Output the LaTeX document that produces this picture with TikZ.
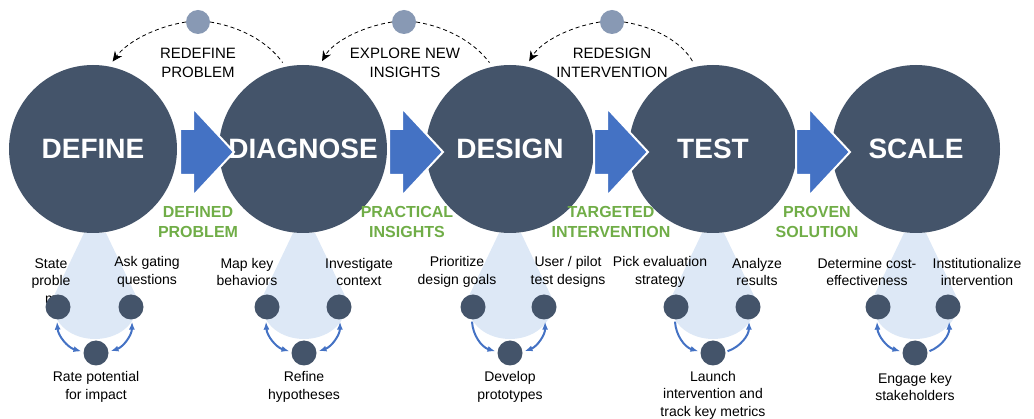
\documentclass[tikz,border=0pt]{standalone}
\usepackage{fontspec}
\setmainfont{Liberation Sans}
\usetikzlibrary{arrows.meta, positioning}
\definecolor{navy}{RGB}{68,84,106}
\definecolor{dotgray}{RGB}{136,153,180}
\definecolor{flowblue}{RGB}{68,114,196}
\definecolor{leafgreen}{RGB}{112,173,71}
\definecolor{conefill}{RGB}{221,232,246}
\tikzset{
	stage/.style={circle, fill=navy, minimum size=168pt, inner sep=0pt},
	stagetext/.style={text=white, font=\fontsize{28}{30}\selectfont\bfseries, inner sep=0pt},
	loopdot/.style={circle, fill=dotgray, minimum size=24pt, inner sep=0pt},
	substep/.style={circle, fill=navy, minimum size=25pt, inner sep=0pt},
	loopnote/.style={align=center, font=\fontsize{15}{19}\selectfont, inner sep=0pt},
	outcome/.style={align=center, text=leafgreen, font=\fontsize{16}{20}\selectfont\bfseries, inner sep=0pt},
	note/.style={align=center, font=\fontsize{14}{17.5}\selectfont, inner sep=0pt},
	cone/.style={fill=conefill},
	flow/.style={fill=flowblue, draw=white, line width=2pt, line join=miter},
	loopdash/.style={dash pattern=on 4pt off 3pt, line width=0.8pt},
	loopback/.style={loopdash, -{Stealth[length=10pt, width=9pt]}},
	link/.style={draw=flowblue, line width=2pt, shorten >=2pt, shorten <=2pt}
}

\begin{document}
\begin{tikzpicture}[x=1pt, y=-1pt]
	\useasboundingbox (0,0) rectangle (1034,419);

	\foreach \cx in {95,304,510,713,915}
		\fill[cone] (\cx-11,233) -- (\cx-43,300) .. controls (\cx-43,352) and (\cx+43,352) .. (\cx+43,300) -- (\cx+11,233) -- cycle;

	\node[stage] (define) at (93,149) {};
	\node[stagetext] (definetext) at (define) {DEFINE};

	\node[stage] (diagnose) at (303,149) {};
	\node[stagetext] (diagnosetext) at (diagnose) {DIAGNOSE};

	\node[stage] (design) at (510,149) {};
	\node[stagetext] (designtext) at (design) {DESIGN};

	\node[stage] (test) at (713,149) {};
	\node[stagetext] (testtext) at (test) {TEST};

	\node[stage] (scale) at (916,149) {};
	\node[stagetext] (scaletext) at (scale) {SCALE};

	\foreach \x in {180,389,594,796}
		\draw[flow, shift={(\x,152)}] (0,-23) -- (13,-23) -- (13,-44) -- (54,0) -- (13,44) -- (13,23) -- (0,23) -- cycle;

	\node[outcome] (defined) at (198,222) {DEFINED\\PROBLEM};
	\node[outcome] (practical) at (407,222) {PRACTICAL\\INSIGHTS};
	\node[outcome] (targeted) at (611,222) {TARGETED\\INTERVENTION};
	\node[outcome] (proven) at (817,222) {PROVEN\\SOLUTION};

	\node[loopdot] (redefine) at (198,22) {};
	\node[loopnote] (redefinetext) at (198,63) {REDEFINE\\PROBLEM};
	\draw[loopback, shorten >=6pt] (redefine.west) .. controls (155,27) and (127,42) .. (define.79);
	\draw[loopdash, shorten >=5pt] (redefine.east) .. controls (241,27) and (268,42) .. (diagnose.102);

	\node[loopdot] (explore) at (404,22) {};
	\node[loopnote] (exploretext) at (405,63) {EXPLORE NEW\\INSIGHTS};
	\draw[loopback, shorten >=6pt] (explore.west) .. controls (361,27) and (333,42) .. (diagnose.79);
	\draw[loopdash, shorten >=5pt] (explore.east) .. controls (447,27) and (474,42) .. (design.102);

	\node[loopdot] (redesign) at (612,22) {};
	\node[loopnote] (redesigntext) at (612,63) {REDESIGN\\INTERVENTION};
	\draw[loopback, shorten >=6pt] (redesign.west) .. controls (569,27) and (541,42) .. (design.79);
	\draw[loopdash, shorten >=5pt] (redesign.east) .. controls (655,27) and (682,42) .. (test.102);

	\node[note] (statetext) at (51,281) {State\\proble\\m};
	\node[note] (gatingtext) at (147,272) {Ask gating\\questions};
	\node[note] (ratetext) at (96,387) {Rate potential\\for impact};
	\node[substep] (state) at (58,307) {};
	\node[substep] (gating) at (131,307) {};
	\node[substep] (rate) at (96,353) {};
	\draw[link, {Latex[length=8pt]}-{Latex[length=8pt]}] (state.-95) to[bend right=35] (rate.175);
	\draw[link, {Latex[length=8pt]}-{Latex[length=8pt]}] (rate.5) to[bend right=35] (gating.-85);

	\node[note] (maptext) at (247,272) {Map key\\behaviors};
	\node[note] (contexttext) at (359,272) {Investigate\\context};
	\node[note] (refinetext) at (304,387) {Refine\\hypotheses};
	\node[substep] (map) at (267,307) {};
	\node[substep] (context) at (339,307) {};
	\node[substep] (refine) at (304,353) {};
	\draw[link, {Latex[length=8pt]}-{Latex[length=8pt]}] (map.-95) to[bend right=35] (refine.175);
	\draw[link, {Latex[length=8pt]}-{Latex[length=8pt]}] (refine.5) to[bend right=35] (context.-85);

	\node[note] (prioritizetext) at (457,272) {Prioritize\\design goals};
	\node[note] (pilottext) at (568,272) {User / pilot\\test designs};
	\node[note] (developtext) at (510,387) {Develop\\prototypes};
	\node[substep] (prioritize) at (473,307) {};
	\node[substep] (pilot) at (544,307) {};
	\node[substep] (develop) at (510,353) {};
	\draw[link, -{Latex[length=8pt]}] (prioritize.-95) to[bend right=35] (develop.175);
	\draw[link, {Latex[length=8pt]}-{Latex[length=8pt]}] (develop.5) to[bend right=35] (pilot.-85);

	\node[note] (picktext) at (660,272) {Pick evaluation\\strategy};
	\node[note] (analyzetext) at (757,272) {Analyze\\results};
	\node[note] (launchtext) at (713,395) {Launch\\intervention and\\track key metrics};
	\node[substep] (pick) at (676,307) {};
	\node[substep] (analyze) at (748,307) {};
	\node[substep] (launch) at (713,353) {};
	\draw[link, -{Latex[length=8pt]}] (pick.-95) to[bend right=35] (launch.175);
	\draw[link, -{Latex[length=8pt]}] (launch.5) to[bend right=35] (analyze.-85);

	\node[note] (costtext) at (867,272) {Determine cost-\\effectiveness};
	\node[note] (institutiontext) at (977,272) {Institutionalize\\intervention};
	\node[note] (engagetext) at (915,387) {Engage key\\stakeholders};
	\node[substep] (cost) at (878,307) {};
	\node[substep] (institution) at (948,307) {};
	\node[substep] (engage) at (915,353) {};
	\draw[link, {Latex[length=8pt]}-{Latex[length=8pt]}] (cost.-95) to[bend right=35] (engage.175);
	\draw[link, -{Latex[length=8pt]}] (engage.5) to[bend right=35] (institution.-85);
\end{tikzpicture}
\end{document}
